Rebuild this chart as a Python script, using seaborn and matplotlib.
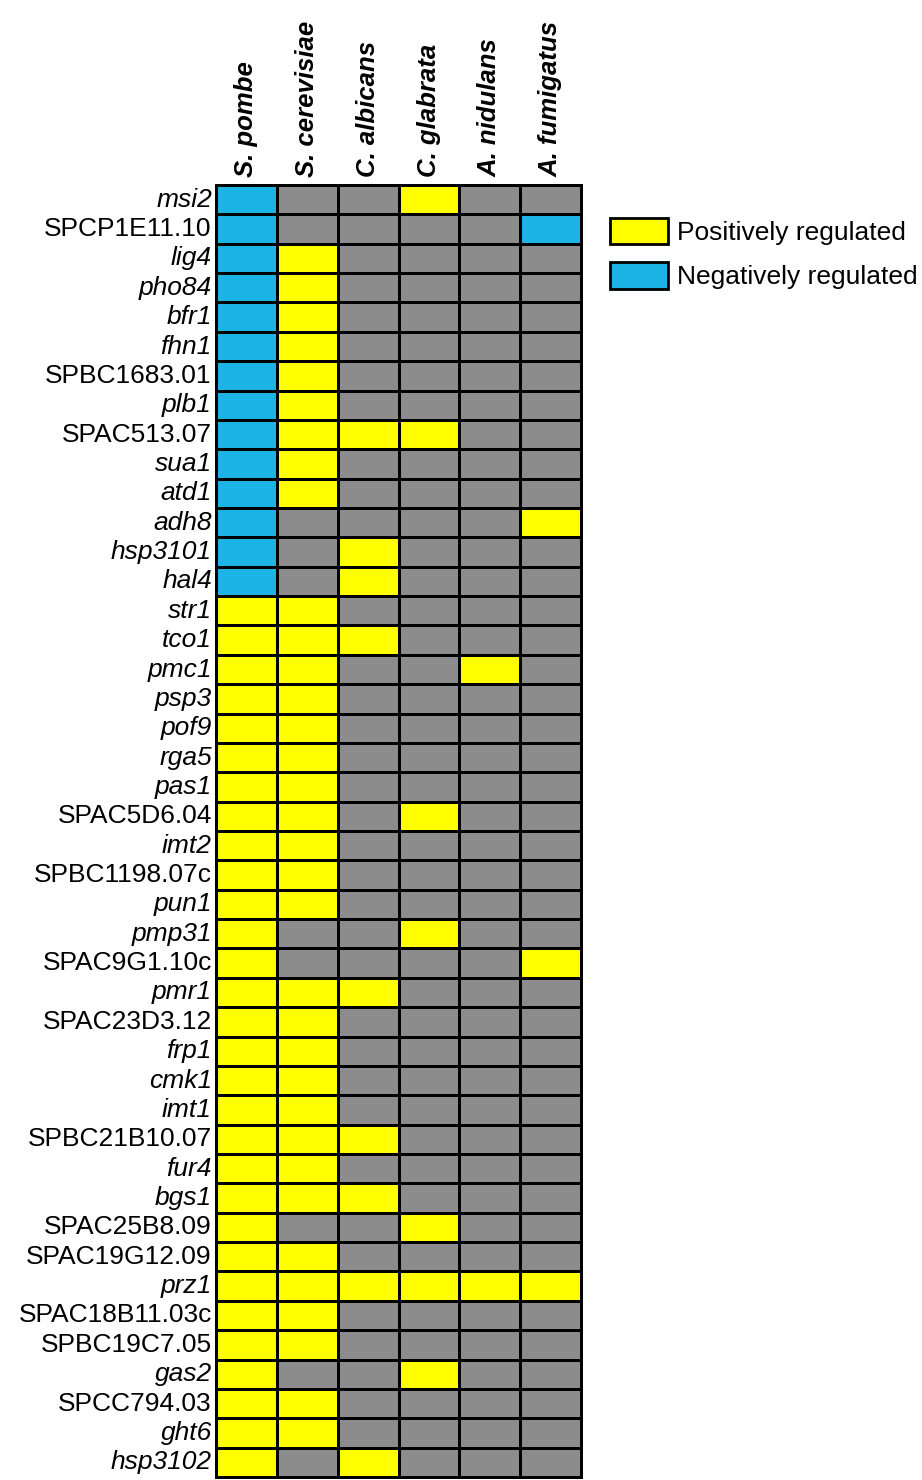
"""
Regulation of calcineurin/Prz1 target genes across fungal species
"""

import numpy as np
import pandas as pd
import matplotlib
matplotlib.use("Agg")
import matplotlib.pyplot as plt
from matplotlib.colors import ListedColormap
from matplotlib.patches import Patch
import seaborn as sns

# species (columns)
species = ["S. pombe", "S. cerevisiae", "C. albicans", "C. glabrata", "A. nidulans", "A. fumigatus"]

# genes (rows)
genes = ["msi2", "SPCP1E11.10", "lig4", "pho84", "bfr1", "fhn1", "SPBC1683.01", "plb1",
         "SPAC513.07", "sua1", "atd1", "adh8", "hsp3101", "hal4", "str1", "tco1", "pmc1",
         "psp3", "pof9", "rga5", "pas1", "SPAC5D6.04", "imt2", "SPBC1198.07c", "pun1",
         "pmp31", "SPAC9G1.10c", "pmr1", "SPAC23D3.12", "frp1", "cmk1", "imt1",
         "SPBC21B10.07", "fur4", "bgs1", "SPAC25B8.09", "SPAC19G12.09", "prz1",
         "SPAC18B11.03c", "SPBC19C7.05", "gas2", "SPCC794.03", "ght6", "hsp3102"]

# 0 = no change, 1 = positively regulated, 2 = negatively regulated
status = [
    [2, 0, 0, 1, 0, 0],
    [2, 0, 0, 0, 0, 2],
    [2, 1, 0, 0, 0, 0],
    [2, 1, 0, 0, 0, 0],
    [2, 1, 0, 0, 0, 0],
    [2, 1, 0, 0, 0, 0],
    [2, 1, 0, 0, 0, 0],
    [2, 1, 0, 0, 0, 0],
    [2, 1, 1, 1, 0, 0],
    [2, 1, 0, 0, 0, 0],
    [2, 1, 0, 0, 0, 0],
    [2, 0, 0, 0, 0, 1],
    [2, 0, 1, 0, 0, 0],
    [2, 0, 1, 0, 0, 0],
    [1, 1, 0, 0, 0, 0],
    [1, 1, 1, 0, 0, 0],
    [1, 1, 0, 0, 1, 0],
    [1, 1, 0, 0, 0, 0],
    [1, 1, 0, 0, 0, 0],
    [1, 1, 0, 0, 0, 0],
    [1, 1, 0, 0, 0, 0],
    [1, 1, 0, 1, 0, 0],
    [1, 1, 0, 0, 0, 0],
    [1, 1, 0, 0, 0, 0],
    [1, 1, 0, 0, 0, 0],
    [1, 0, 0, 1, 0, 0],
    [1, 0, 0, 0, 0, 1],
    [1, 1, 1, 0, 0, 0],
    [1, 1, 0, 0, 0, 0],
    [1, 1, 0, 0, 0, 0],
    [1, 1, 0, 0, 0, 0],
    [1, 1, 0, 0, 0, 0],
    [1, 1, 1, 0, 0, 0],
    [1, 1, 0, 0, 0, 0],
    [1, 1, 1, 0, 0, 0],
    [1, 0, 0, 1, 0, 0],
    [1, 1, 0, 0, 0, 0],
    [1, 1, 1, 1, 1, 1],
    [1, 1, 0, 0, 0, 0],
    [1, 1, 0, 0, 0, 0],
    [1, 0, 0, 1, 0, 0],
    [1, 1, 0, 0, 0, 0],
    [1, 1, 0, 0, 0, 0],
    [1, 0, 1, 0, 0, 0],
]

legend_labels = ["Positively regulated", "Negatively regulated"]

gray = "#8C8C8C"
yellow = "#FFFF00"
blue = "#1BB4E4"

df = pd.DataFrame(status, index=genes, columns=species)

sns.set_style("white")
plt.rcParams["font.family"] = ["Liberation Sans", "DejaVu Sans"]
plt.rcParams["text.color"] = "black"
plt.rcParams["xtick.color"] = "black"
plt.rcParams["ytick.color"] = "black"
plt.rcParams["xtick.labelcolor"] = "black"
plt.rcParams["ytick.labelcolor"] = "black"

fig = plt.figure(figsize=(9.22, 14.8), dpi=100)
ax = fig.add_axes([216 / 922, 1 - 1477 / 1480, 365 / 922, 1292 / 1480])

sns.heatmap(df, ax=ax, cmap=ListedColormap([gray, yellow, blue]), vmin=-0.5, vmax=2.5,
            cbar=False, linewidths=2, linecolor="black")
for coll in ax.collections:
    coll.set_clip_on(False)

# column labels on top
ax.xaxis.tick_top()
ax.set_xticklabels(species, rotation=90, fontsize=18.5, fontweight="heavy", fontstyle="italic",
                   ha="center", va="bottom", color="black")
ax.set_yticklabels(genes, rotation=0, fontsize=19, color="black")
for lab in ax.get_yticklabels():
    if not lab.get_text().startswith("SP"):
        lab.set_fontstyle("italic")
ax.tick_params(axis="both", length=0, pad=3)
ax.tick_params(axis="x", pad=6)
ax.set_xlabel("")
ax.set_ylabel("")

for sp in ax.spines.values():
    sp.set_visible(True)
    sp.set_linewidth(2)
    sp.set_color("black")

# legend
handles = [Patch(facecolor=yellow, edgecolor="black", linewidth=2),
           Patch(facecolor=blue, edgecolor="black", linewidth=2)]
leg = fig.legend(handles, legend_labels, loc="upper left",
                 bbox_to_anchor=(597 / 922, 1 - 205 / 1480),
                 frameon=False, fontsize=19, handlelength=2.2, handleheight=1.15,
                 handletextpad=0.35, labelspacing=0.65, borderpad=0)
for t in leg.get_texts():
    t.set_color("black")

fig.savefig("out.png", dpi=100)
